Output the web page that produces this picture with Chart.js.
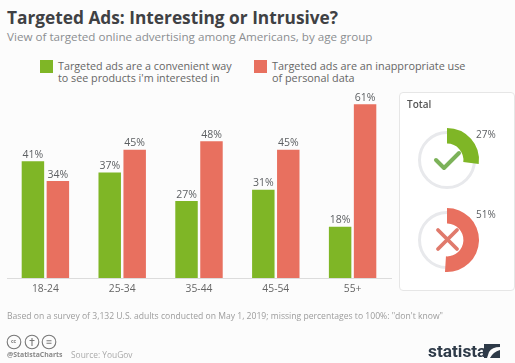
<!DOCTYPE html>
<html>
<head>
<meta charset="utf-8">
<script src="https://cdn.jsdelivr.net/npm/chart.js@4/dist/chart.umd.min.js"></script>
<style>
  html, body { margin: 0; padding: 0; background: #fcfcfc; }
  body { width: 515px; height: 363px; position: relative; overflow: hidden; font-family: "Open Sans", sans-serif; filter: blur(0.4px); }
  .txt { position: absolute; white-space: nowrap; }
  canvas { position: absolute; }
  #panel { position: absolute; left: 399px; top: 92px; width: 114px; height: 197px; background: #fff; border: 1px solid #e6e6e6; border-radius: 4px; }
  .sw { position: absolute; width: 13px; height: 13px; top: 60px; }
  svg { position: absolute; }
</style>
</head>
<body>
<div class="txt" style="left:7px;top:6px;font-size:17.3px;font-weight:700;color:#3f4144">Targeted Ads: Interesting or Intrusive?</div>
<div class="txt" style="left:7px;top:29px;font-size:11.65px;color:#8b8e91">View of targeted online advertising among Americans, by age group</div>

<div class="sw" style="left:40px;background:#7fb626"></div>
<div class="txt" style="left:58px;top:60px;font-size:10.75px;line-height:12px;color:#666">Targeted ads are a convenient way<br>to see products i'm interested in</div>
<div class="sw" style="left:254px;background:#e8705f"></div>
<div class="txt" style="left:272px;top:60px;font-size:10.85px;line-height:12px;color:#666">Targeted ads are an inappropriate use<br>of personal data</div>

<canvas id="bars" width="515" height="363" style="left:0;top:0"></canvas>

<div id="panel"></div>
<div class="txt" style="left:407px;top:97px;font-size:10px;font-weight:600;color:#555">Total</div>
<canvas id="donutGood" width="100" height="80" style="left:397px;top:120px"></canvas>
<canvas id="donutBad" width="100" height="80" style="left:397px;top:200px"></canvas>

<svg style="left:433px;top:148px" width="30" height="24"><path d="M3 12 L11 20 L26 5" fill="none" stroke="#7cb259" stroke-width="4" stroke-linecap="round" stroke-linejoin="round"/></svg>
<svg style="left:434px;top:226px" width="26" height="26"><path d="M4 4 L23 23 M23 4 L4 23" fill="none" stroke="#e07a6c" stroke-width="3.8" stroke-linecap="round"/></svg>

<div class="txt" style="left:7px;top:310px;font-size:8.6px;color:#9c9c9c">Based on a survey of 3,132 U.S. adults conducted on May 1, 2019; missing percentages to 100%: "don't know"</div>

<svg style="left:6px;top:334px" width="54" height="16" fill="none" stroke="#777" stroke-width="1.1">
  <circle cx="8" cy="8" r="6.8"/><circle cx="26" cy="8" r="6.8"/><circle cx="43" cy="8" r="6.8"/>
  <path d="M23.5 6.5 h5 M26 4 v8 M40.5 6.8 h5 M40.5 9.2 h5"/>
</svg>
<div class="txt" style="left:11px;top:338px;font-size:5px;font-weight:700;color:#777">cc</div>
<div class="txt" style="left:7px;top:350px;font-size:6.9px;font-weight:700;color:#888">@StatistaCharts</div>
<div class="txt" style="left:71px;top:349px;font-size:8.4px;color:#aaa">Source: YouGov</div>

<div class="txt" style="left:428px;top:341px;font-size:17.3px;font-weight:700;font-family:'Liberation Sans Narrow','Roboto',sans-serif;color:#2e3a48">statista</div>
<svg style="left:484px;top:344px" width="16" height="14"><path d="M0 0 H16 V3 Q8 3 5 8 L3 14 H0 Z M16 14 H6 Q9 8 16 6 Z" fill="#2e3a48"/></svg>

<script>
const ageGroups = ['18-24', '25-34', '35-44', '45-54', '55+'];
const convenient = [41, 37, 27, 31, 18];
const inappropriate = [34, 45, 48, 45, 61];
const totalConvenient = 27;
const totalInappropriate = 51;

const green = '#7fb626';
const red = '#e8705f';

// percent labels on top of the bars
const barLabels = {
  id: 'barLabels',
  afterDatasetsDraw(chart) {
    const ctx = chart.ctx;
    ctx.save();
    ctx.font = '10.5px "Open Sans"';
    ctx.fillStyle = '#5c5f62';
    ctx.textAlign = 'center';
    ctx.textBaseline = 'bottom';
    chart.data.datasets.forEach((ds, i) => {
      chart.getDatasetMeta(i).data.forEach((bar, j) => {
        ctx.fillText(ds.data[j] + '%', bar.x, bar.y - 1);
      });
    });
    ctx.restore();
  }
};

new Chart(document.getElementById('bars'), {
  type: 'bar',
  data: {
    labels: ageGroups,
    datasets: [
      { data: convenient, backgroundColor: green, barPercentage: 0.9, categoryPercentage: 0.65 },
      { data: inappropriate, backgroundColor: red, barPercentage: 0.9, categoryPercentage: 0.65 }
    ]
  },
  plugins: [barLabels],
  options: {
    responsive: false,
    animation: false,
    layout: { padding: { left: 7, right: 124, top: 78.5, bottom: 63 } },
    plugins: { legend: { display: false }, tooltip: { enabled: false } },
    scales: {
      x: {
        grid: { display: false },
        border: { color: '#dcdcdc' },
        afterFit(scale) { scale.height = 22; },
        ticks: { color: '#666', font: { family: 'Open Sans', size: 10.3 }, padding: -3 }
      },
      y: { display: false, min: 0, max: 70 }
    }
  }
});

function donut (id, value, color) {
  // thin gray ring behind the arc
  const track = {
    id: 'track',
    beforeDatasetsDraw(chart) {
      const arc = chart.getDatasetMeta(0).data[0];
      const ctx = chart.ctx;
      ctx.save();
      ctx.strokeStyle = '#e8e9ec';
      ctx.lineWidth = 3;
      ctx.beginPath();
      ctx.arc(arc.x, arc.y, 27.5, 0, Math.PI * 2);
      ctx.stroke();
      ctx.restore();
    }
  };
  const label = {
    id: 'label',
    afterDatasetsDraw(chart) {
      const arc = chart.getDatasetMeta(0).data[0];
      const ctx = chart.ctx;
      ctx.save();
      ctx.font = '10px "Open Sans"';
      ctx.fillStyle = '#5c5f62';
      ctx.textBaseline = 'middle';
      ctx.fillText(value + '%', arc.x + 29, arc.y - 25);
      ctx.restore();
    }
  };
  new Chart(document.getElementById(id), {
    type: 'doughnut',
    data: {
      datasets: [{ data: [value, 100 - value], backgroundColor: [color, 'rgba(0,0,0,0)'], borderWidth: 0 }]
    },
    plugins: [track, label],
    options: {
      responsive: false,
      animation: false,
      radius: 32,
      cutout: 20.5,
      plugins: { legend: { display: false }, tooltip: { enabled: false } }
    }
  });
}

donut('donutGood', totalConvenient, green);
donut('donutBad', totalInappropriate, red);
</script>
</body>
</html>
